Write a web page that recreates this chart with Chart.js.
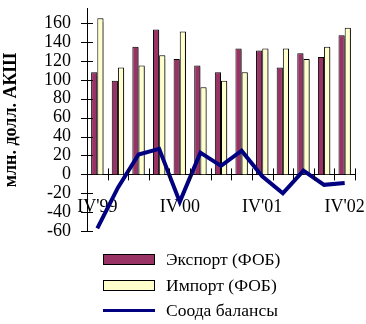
<!DOCTYPE html>
<html>
<head>
<meta charset="utf-8">
<script src="https://cdn.jsdelivr.net/npm/chart.js@4/dist/chart.umd.min.js"></script>
<style>
  html, body { margin: 0; padding: 0; background: #fff; }
  #wrap { position: relative; width: 366px; height: 324px; overflow: hidden; }
  #chartBox { position: absolute; left: 0; top: -18px; width: 366px; height: 276px; }
  #legend { position: absolute; left: 103px; top: 247px; font-family: "Liberation Serif", "Times New Roman", serif; font-size: 17.5px; color: #000; }
  .row { display: flex; align-items: center; height: 25.5px; }
  .sw { width: 52px; height: 11px; box-sizing: border-box; border: 1.5px solid #000; margin-right: 11px; }
  .ln { width: 52px; height: 3px; margin-right: 11px; }
</style>
</head>
<body>
<div id="wrap">
  <div id="chartBox"><canvas id="c" width="366" height="276"></canvas></div>
  <div id="legend"></div>
</div>
<script>
// Quarters from IV'99 to IV'02
const quarters = ["IV'99", "I'00", "II'00", "III'00", "IV'00", "I'01", "II'01", "III'01", "IV'01", "I'02", "II'02", "III'02", "IV'02"];
// Only every fourth quarter is labelled on the axis
const shownLabels = ["IV'99", "IV'00", "IV'01", "IV'02"];

// millions of US dollars
const exportFob = [108, 99, 135, 153, 122, 115, 108, 133, 131, 113, 128, 124, 147];
const importFob = [165, 113, 115, 126, 151, 92, 99, 108, 133, 133, 122, 135, 155];
const tradeBalance = [-57, -14, 21, 27, -29, 23, 9, 25, -2, -20, 4, -11, -9];

const yTicks = [-60, -40, -20, 0, 20, 40, 60, 80, 100, 120, 140, 160];

const seriesNames = ["Экспорт (ФОБ)", "Импорт (ФОБ)", "Соода балансы"];
const yTitle = "млн. долл. АКШ";

const serif = "'Liberation Serif', 'Times New Roman', serif";

// Tick marks that cross both axes, as in the original spreadsheet style
const crossTicks = {
  id: 'crossTicks',
  afterDatasetsDraw(chart) {
    const ctx = chart.ctx;
    const x = chart.scales.x, y = chart.scales.y;
    const x0 = x.left, y0 = y.getPixelForValue(0);
    ctx.save();
    ctx.strokeStyle = '#000';
    ctx.lineWidth = 1;
    ctx.beginPath();
    yTicks.forEach(v => {
      const py = Math.round(y.getPixelForValue(v)) + 0.5;
      ctx.moveTo(x0 - 6, py); ctx.lineTo(x0 + 6, py);
    });
    for (let i = 0; i <= quarters.length; i++) {
      const px = Math.round(x.left + (x.right - x.left) * i / quarters.length) + 0.5;
      ctx.moveTo(px, y0 - 6); ctx.lineTo(px, y0 + 6);
    }
    ctx.stroke();
    ctx.restore();
  }
};

// Soft grey drop shadow under the bars
const barShadow = {
  id: 'barShadow',
  beforeDatasetDraw(chart, args) {
    if (args.meta.type !== 'bar') return;
    const ctx = chart.ctx;
    ctx.save();
    ctx.shadowColor = 'rgba(0,0,0,0.45)';
    ctx.shadowOffsetX = 2;
    ctx.shadowOffsetY = 1;
    ctx.shadowBlur = 1;
  },
  afterDatasetDraw(chart, args) {
    if (args.meta.type !== 'bar') return;
    chart.ctx.restore();
  }
};

const chart = new Chart(document.getElementById('c'), {
  data: {
    labels: quarters,
    datasets: [
      { type: 'bar', label: seriesNames[0], data: exportFob, backgroundColor: '#993366', borderColor: '#000', borderWidth: 1, borderSkipped: 'bottom', order: 1, barPercentage: 1.0, categoryPercentage: 0.6 },
      { type: 'bar', label: seriesNames[1], data: importFob, backgroundColor: '#FFFFCC', borderColor: '#000', borderWidth: 1, borderSkipped: 'bottom', order: 1, barPercentage: 1.0, categoryPercentage: 0.6 },
      { type: 'line', label: seriesNames[2], data: tradeBalance, borderColor: '#000080', borderWidth: 4, pointRadius: 0, tension: 0, fill: false, order: 0, borderCapStyle: 'butt', borderJoinStyle: 'miter' }
    ]
  },
  options: {
    responsive: false,
    animation: false,
    events: [],
    layout: { padding: { top: 0, right: 11, bottom: 0, left: 0 } },
    plugins: { legend: { display: false }, tooltip: { enabled: false } },
    scales: {
      x: {
        position: { y: 0 },
        offset: true,
        afterFit(scale) { scale.height = 0; scale.paddingLeft = 0; scale.paddingRight = 0; },
        grid: { display: false, drawTicks: false },
        border: { display: true, color: '#000', width: 1 },
        ticks: {
          autoSkip: false,
          maxRotation: 0,
          padding: 22,
          color: '#000',
          font: { family: serif, size: 18 },
          callback(v, i) { return shownLabels.includes(quarters[i]) ? quarters[i] : ''; }
        }
      },
      y: {
        min: -60,
        max: 175,
        afterBuildTicks(scale) { scale.ticks = yTicks.map(v => ({ value: v })); },
        afterFit(scale) { scale.width = 87; },
        grid: { display: false, drawTicks: false },
        border: { display: true, color: '#000', width: 1 },
        ticks: { autoSkip: false, padding: 16, color: '#000', font: { family: serif, size: 18 } },
        title: { display: true, text: yTitle, color: '#000', font: { family: serif, size: 18, weight: 'bold', lineHeight: 1.2 }, padding: { top: 1, bottom: 0 } }
      }
    }
  },
  plugins: [crossTicks, barShadow]
});

// Legend listing the three series, built from the chart's datasets
const legend = document.getElementById('legend');
[0, 1, 2].forEach(i => {
  const ds = chart.data.datasets[i];
  const row = document.createElement('div');
  row.className = 'row';
  const mark = document.createElement('div');
  if (ds.type === 'line') {
    mark.className = 'ln';
    mark.style.background = ds.borderColor;
  } else {
    mark.className = 'sw';
    mark.style.background = ds.backgroundColor;
  }
  const txt = document.createElement('span');
  txt.textContent = ds.label;
  row.appendChild(mark);
  row.appendChild(txt);
  legend.appendChild(row);
});
</script>
</body>
</html>
